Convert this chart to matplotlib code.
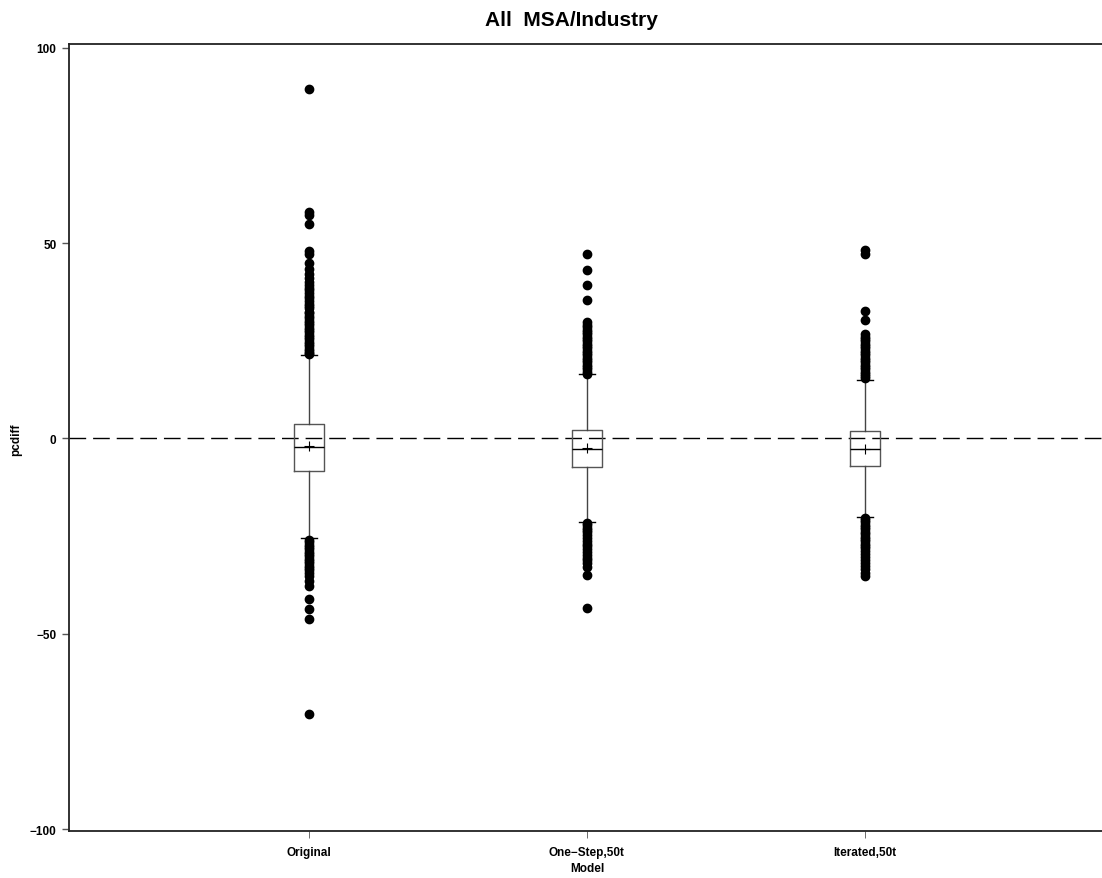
import matplotlib
matplotlib.use("Agg")
import matplotlib.pyplot as plt

plt.rcParams['font.family'] = ['Liberation Sans', 'DejaVu Sans']

# categories and box statistics
models = ['Original', 'One\u2212Step,50t', 'Iterated,50t']
q1 = [-8.2, -7.2, -7.1]
med = [-2.1, -2.6, -2.6]
q3 = [3.8, 2.1, 1.8]
mean = [-2.0, -2.4, -2.7]
whislo = [-25.6, -21.3, -20.0]
whishi = [21.3, 16.4, 15.1]

# outliers
fliers_orig = [89.5, 58, 57.3, 55, 48, 47.3, 45, 43.5, 42, 41, 40, 39.3, 38.5,
               38, 37.3, 36.5, 36, 35.2, 34.5, 34, 33.3, 32.5, 32, 31.4, 30.8,
               30.2, 29.5, 29, 28.4, 27.8, 27.2, 26.6, 26, 25.4, 24.8, 24.2,
               23.6, 23, 22.5, 22, 21.6,
               -26, -26.6, -27.2, -27.8, -28.4, -29, -29.6, -30.2, -30.8,
               -31.4, -32, -32.6, -33.2, -33.8, -34.5, -35.3, -36.5, -37.7,
               -41, -43.6, -46.2, -70.6]
fliers_one = [47.3, 43.2, 39.2, 35.4, 29.7, 29.1, 28.5, 27.9, 27.3, 26.7,
              26.1, 25.5, 24.9, 24.3, 23.7, 23.1, 22.5, 21.9, 21.3, 20.7, 20.1,
              19.5, 18.9, 18.3, 17.7, 17.1, 16.6,
              -21.6, -22.2, -22.8, -23.4, -24, -24.8, -25.5, -26.2, -27,
              -27.6, -28.3, -29, -29.8, -30.5, -31.2, -31.8, -33, -34.9, -43.5]
fliers_iter = [48.3, 47.3, 32.6, 30.3, 26.7, 26.1, 25.5, 24.9, 24.3, 23.7,
               23.1, 22.5, 21.9, 21.3, 20.7, 20.1, 19.5, 18.9, 18.3, 17.7,
               17.1, 16.5, 15.9, 15.4,
               -20.3, -20.9, -21.5, -22.1, -22.7, -23.3, -23.9, -24.5, -25.1,
               -25.7, -26.3, -26.9, -27.5, -28.1, -28.7, -29.5, -30.3, -31.1,
               -31.9, -32.7, -33.5, -34.4, -35.3]
fliers = [fliers_orig, fliers_one, fliers_iter]

yticks = [-100, -50, 0, 50, 100]
ytick_labels = ['\u2212100', '\u221250', '0', '50', '100']

stats = []
for i in range(len(models)):
    stats.append(dict(q1=q1[i], med=med[i], q3=q3[i], mean=mean[i],
                      whislo=whislo[i], whishi=whishi[i], fliers=fliers[i],
                      label=models[i]))

fig = plt.figure(figsize=(11.02, 8.79), dpi=100)
ax = fig.add_axes([69 / 1102, 1 - 832 / 879, 1 - 69 / 1102, (832 - 45) / 879])

ax.axhline(0, color='black', lw=1.0, dashes=(12, 5), zorder=1)

ax.bxp(stats, positions=[1, 2, 3], widths=0.105, showmeans=True,
       boxprops=dict(color='#555555', lw=1.0),
       medianprops=dict(color='black', lw=1.0),
       whiskerprops=dict(color='#444444', lw=1.0),
       capprops=dict(color='black', lw=1.0),
       capwidths=0.06,
       meanprops=dict(marker='+', markeredgecolor='black', markersize=7,
                      markeredgewidth=0.8),
       flierprops=dict(marker='o', markerfacecolor='black',
                       markeredgecolor='black', markersize=6))

ax.set_xlim(0.137, 0.137 + (1102 - 69) / 278)
ax.set_ylim(-100.5, 101)
ax.set_yticks(yticks)
ax.set_yticklabels(ytick_labels)
ax.tick_params(axis='y', direction='out', length=5, width=1, pad=4,
               labelsize=8.5, color='#555555')
ax.tick_params(axis='x', direction='out', length=5, width=0.6, pad=6,
               labelsize=8.5, color='#555555')
for lab in ax.get_xticklabels() + ax.get_yticklabels():
    lab.set_fontweight('bold')
ax.spines['right'].set_visible(False)
for s in ['left', 'top', 'bottom']:
    ax.spines[s].set_color('#222222')
    ax.spines[s].set_linewidth(1.3)

fig.text(587 / 1102, 1 - 869 / 879, 'Model', ha='center', va='center',
         fontsize=8.5, fontweight='bold')
fig.text(16 / 1102, 1 - 440 / 879, 'pcdiff', ha='center', va='center',
         rotation=90, fontsize=8.5, fontweight='bold')
fig.text(571 / 1102, 1 - 20 / 879, 'All  MSA/Industry', ha='center',
         va='center', fontsize=15, fontweight='bold')

fig.savefig('out.png', dpi=100)
